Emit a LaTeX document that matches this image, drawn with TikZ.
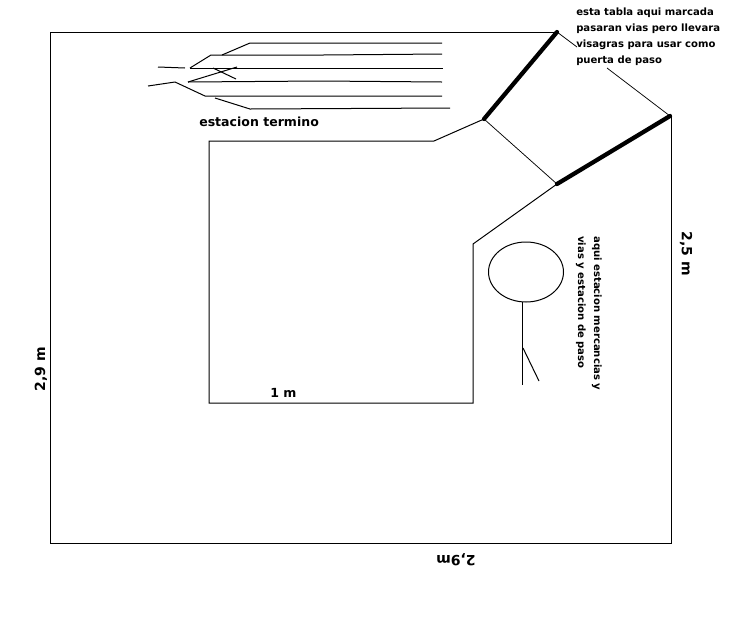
\documentclass[tikz,border=0pt]{standalone}
\usepackage{fontspec}
\setmainfont{DejaVu Sans}
\tikzset{
  plan/.style={line width=0.75pt,black},
  thin line/.style={line width=0.55pt,black},
  hinge/.style={line width=3.2pt,black,line cap=round},
  small/.style={font=\bfseries\fontsize{7.55}{12}\selectfont,inner sep=0pt,align=left},
  label/.style={font=\bfseries\fontsize{10.5}{12}\selectfont,inner sep=0pt},
  midlabel/.style={font=\bfseries\fontsize{9.4}{12}\selectfont,inner sep=0pt},
}
\begin{document}
\begin{tikzpicture}[x=0.75pt,y=-0.75pt]
\useasboundingbox (0,0) rectangle (729,626);
\fill[white] (0,0) rectangle (729,626);
% room outline
\draw[plan] (557,32) -- (50,32) -- (50,543) -- (671,543) -- (671,117);
% inner table
\draw[plan] (484,119) -- (434,141) -- (209,141) -- (209,403) -- (473,403) -- (473,244) -- (557,184);
% hinged board
\draw[thin line] (484,119) -- (557,184);
\draw[thin line] (557,32) -- (577,47);
\draw[thin line] (607,68) -- (670,116);
\draw[hinge] (557,32) -- (484,119);
\draw[hinge] (557,184) -- (670,116);
% terminus tracks
\draw[plan] (222,55) -- (250,43) -- (442,43);
\draw[plan] (190,68) -- (211,55) -- (323,55) -- (442,54);
\draw[plan] (158,67) -- (185,68);
\draw[plan] (190,68) -- (443,68);
\draw[plan] (148,86) -- (175,82) -- (205,96) -- (442,96);
\draw[plan] (188,82) -- (320,81) -- (442,82);
\draw[plan] (188,82) -- (237,67);
\draw[plan] (213,68) -- (236,79);
\draw[plan] (215,98) -- (250,109) -- (450,108);
% freight station loop
\draw[plan] (526,272) ellipse [x radius=37.5,y radius=30];
\draw[plan] (522,302) -- (522,385);
\draw[plan] (523,348) -- (539,381);
% labels
\node[small,anchor=north west] (note) at (576,8) {esta tabla aqui marcada\\pasaran vias pero llevara\\visagras para usar como\\puerta de paso};
\node[midlabel,anchor=west] (termino) at (199,122) {estacion termino};
\node[midlabel,anchor=west] (uno) at (270,393) {1 m};
\node[label,rotate=90] (left) at (41,369) {2,9 m};
\node[label,rotate=-90] (right) at (686,254) {2,5 m};
\node[label,rotate=180] (bottom) at (456,560) {2,9m};
\node[small,rotate=-90,anchor=north west] (freight) at (602,236) {aqui estacion mercancias y\\vias y estacion de paso};
\end{tikzpicture}
\end{document}
